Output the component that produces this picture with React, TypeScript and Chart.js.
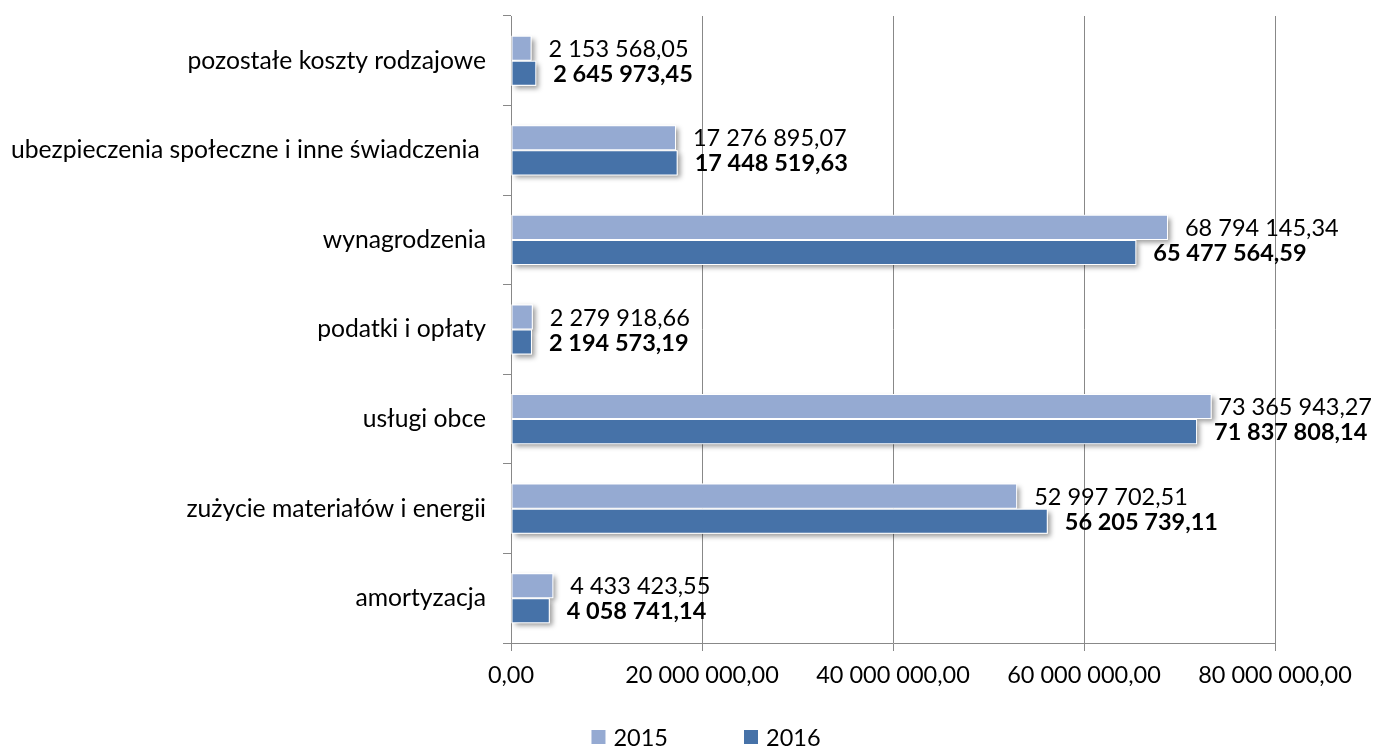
import React, { useEffect, useRef } from 'react';
import { Chart, registerables } from 'chart.js';

Chart.register(...registerables);

const categories = [
  'pozostałe koszty rodzajowe',
  'ubezpieczenia społeczne i inne świadczenia ',
  'wynagrodzenia',
  'podatki i opłaty',
  'usługi obce',
  'zużycie materiałów i energii',
  'amortyzacja',
];
const values2015 = [2153568.05, 17276895.07, 68794145.34, 2279918.66, 73365943.27, 52997702.51, 4433423.55];
const values2016 = [2645973.45, 17448519.63, 65477564.59, 2194573.19, 71837808.14, 56205739.11, 4058741.14];
const seriesNames = ['2015', '2016'];
const xMax = 80000000;
const xStep = 20000000;

const FONT = 'Lato, "Open Sans", sans-serif';
const FS = 23.5;
const CAT_FS = 24.7;
const LIGHT = '#95AAD2';
const DARK = '#4672A8';
const GRID = '#888888';

function fmt(v: number): string {
  const [i, d] = Math.abs(v).toFixed(2).split('.');
  return i.replace(/\B(?=(\d{3})+(?!\d))/g, ' ') + ',' + d;
}

const shadowPlugin = {
  id: 'barShadow',
  beforeDatasetsDraw(chart: any) {
    const ctx = chart.ctx;
    ctx.save();
    ctx.shadowColor = 'rgba(0,0,0,0.4)';
    ctx.shadowBlur = 5;
    ctx.shadowOffsetX = 3;
    ctx.shadowOffsetY = 3;
    ctx.fillStyle = '#ffffff';
    chart.data.datasets.forEach((_: any, di: number) => {
      const meta = chart.getDatasetMeta(di);
      meta.data.forEach((el: any) => {
        const p = el.getProps(['x', 'y', 'base', 'height'], true);
        ctx.fillRect(p.base, p.y - p.height / 2, p.x - p.base, p.height);
      });
    });
    ctx.restore();
  },
};

const labelPlugin = {
  id: 'valueLabels',
  afterDatasetsDraw(chart: any) {
    const ctx = chart.ctx;
    ctx.save();
    ctx.textAlign = 'left';
    ctx.textBaseline = 'middle';
    ctx.fillStyle = '#000000';
    chart.data.datasets.forEach((ds: any, di: number) => {
      const meta = chart.getDatasetMeta(di);
      ctx.font = (di === 1 ? 'bold ' : '') + FS + 'px ' + FONT;
      meta.data.forEach((el: any, i: number) => {
        const p = el.getProps(['x', 'y'], true);
        const text = fmt(ds.data[i]);
        const w = ctx.measureText(text).width;
        let x = p.x + 17;
        if (x + w > chart.width - 2) x = chart.width - 2 - w;
        ctx.fillText(text, x, p.y + 1);
      });
    });
    ctx.restore();
  },
};

const legendPlugin = {
  id: 'customLegend',
  afterDraw(chart: any) {
    const ctx = chart.ctx;
    ctx.save();
    ctx.font = FS + 'px ' + FONT;
    ctx.textBaseline = 'middle';
    ctx.textAlign = 'left';
    const box = 14;
    const gap = 8;
    const itemGap = 76;
    const items = chart.data.datasets.map((ds: any) => ({
      label: ds.label,
      color: ds.backgroundColor,
      w: box + gap + ctx.measureText(ds.label).width,
    }));
    const total = items.reduce((s: number, it: any) => s + it.w, 0) + itemGap * (items.length - 1);
    let x = 706 - total / 2;
    const y = 737;
    items.forEach((it: any) => {
      ctx.fillStyle = it.color;
      ctx.fillRect(x, y - box / 2, box, box);
      ctx.fillStyle = '#000000';
      ctx.fillText(it.label, x + box + gap, y + 1);
      x += it.w + itemGap;
    });
    ctx.restore();
  },
};

export default function App() {
  const ref = useRef<HTMLCanvasElement | null>(null);
  useEffect(() => {
    if (!ref.current) return;
    const chart = new Chart(ref.current, {
      type: 'bar',
      data: {
        labels: categories,
        datasets: [
          {
            label: seriesNames[0],
            data: values2015,
            backgroundColor: LIGHT,
            borderColor: '#ffffff',
            borderWidth: 1,
            borderSkipped: false,
            categoryPercentage: 0.56,
            barPercentage: 1,
          },
          {
            label: seriesNames[1],
            data: values2016,
            backgroundColor: DARK,
            borderColor: '#ffffff',
            borderWidth: 1,
            borderSkipped: false,
            categoryPercentage: 0.56,
            barPercentage: 1,
          },
        ],
      },
      options: {
        indexAxis: 'y',
        animation: false,
        responsive: true,
        maintainAspectRatio: false,
        layout: { padding: { left: 0, right: 99, top: 16, bottom: 60 } },
        plugins: {
          legend: { display: false },
          tooltip: { enabled: false },
        },
        scales: {
          y: {
            type: 'category',
            grid: { drawOnChartArea: false, tickLength: 8, color: GRID, offset: true },
            border: { color: GRID, width: 1 },
            ticks: {
              font: { family: FONT, size: CAT_FS },
              color: '#000000',
              padding: 17,
              autoSkip: false,
            },
            afterFit(scale: any) {
              scale.width = 511;
              scale.paddingTop = 0;
              scale.paddingBottom = 0;
            },
          },
          x: {
            type: 'linear',
            min: 0,
            max: xMax,
            grid: { color: GRID, tickLength: 8, drawTicks: true },
            border: { color: GRID, width: 1 },
            ticks: {
              stepSize: xStep,
              font: { family: FONT, size: FS },
              color: '#000000',
              padding: 10,
              maxRotation: 0,
              callback: (v: any) => fmt(Number(v)),
            },
            afterFit(scale: any) {
              scale.height = 43;
            },
          },
        },
      },
      plugins: [shadowPlugin, labelPlugin, legendPlugin],
    });
    return () => chart.destroy();
  }, []);
  return (
    <div style={{ position: 'fixed', left: 0, top: 0, width: 1374, height: 746, background: '#ffffff' }}>
      <canvas ref={ref} />
    </div>
  );
}
